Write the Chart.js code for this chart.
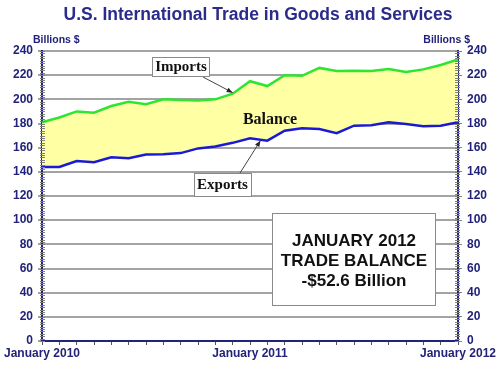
<!DOCTYPE html>
<html><head><meta charset="utf-8">
<script src="https://cdn.jsdelivr.net/npm/chart.js@4"></script>
<style>html,body{margin:0;padding:0;background:#fff}#wrap{width:500px;height:382px;position:relative}</style>
</head><body><div id="wrap"><canvas id="c" width="500" height="382"></canvas></div>
<script>
const months = ['Jan 2010','Feb 2010','Mar 2010','Apr 2010','May 2010','Jun 2010','Jul 2010','Aug 2010','Sep 2010','Oct 2010','Nov 2010','Dec 2010',
  'Jan 2011','Feb 2011','Mar 2011','Apr 2011','May 2011','Jun 2011','Jul 2011','Aug 2011','Sep 2011','Oct 2011','Nov 2011','Dec 2011','Jan 2012'];
const tickLabels = {0:'January 2010', 12:'January 2011', 24:'January 2012'};
const imports = [181, 185, 190, 189, 194.5, 198, 196, 200, 199.5, 199, 200, 204.7, 215, 211, 220, 219.5, 226, 223.4, 223.7, 223.4, 225, 222.6, 224.8, 228.4, 233];
const exports = [144, 144, 149, 148, 152, 151.3, 154.4, 154.6, 155.5, 159.4, 161, 164, 167.8, 165.8, 174, 176, 175.5, 172, 178.2, 178.5, 181, 179.6, 177.7, 178.2, 181];
const yTicks = [0,20,40,60,80,100,120,140,160,180,200,220,240];
const title = 'U.S. International Trade in Goods and Services';
const unitLabel = 'Billions $';
const noteLines = ['JANUARY 2012','TRADE BALANCE','-$52.6 Billion'];

const NAVY = '#22227A';
const SANS = '"Liberation Sans", Arial, sans-serif';
const SERIF = '"Liberation Serif", "Times New Roman", serif';

function arrow(ctx, x1, y1, x2, y2) {
  ctx.save();
  ctx.strokeStyle = '#444'; ctx.fillStyle = '#222'; ctx.lineWidth = 1;
  ctx.beginPath(); ctx.moveTo(x1, y1); ctx.lineTo(x2, y2); ctx.stroke();
  const a = Math.atan2(y2 - y1, x2 - x1), L = 6, W = 2.5;
  ctx.beginPath();
  ctx.moveTo(x2, y2);
  ctx.lineTo(x2 - L*Math.cos(a) + W*Math.sin(a), y2 - L*Math.sin(a) - W*Math.cos(a));
  ctx.lineTo(x2 - L*Math.cos(a) - W*Math.sin(a), y2 - L*Math.sin(a) + W*Math.cos(a));
  ctx.closePath(); ctx.fill();
  ctx.restore();
}
function box(ctx, x, y, w, h) {
  ctx.save();
  ctx.fillStyle = '#fff'; ctx.fillRect(x, y, w, h);
  ctx.strokeStyle = '#8a8a8a'; ctx.lineWidth = 1; ctx.strokeRect(x + 0.5, y + 0.5, w, h);
  ctx.restore();
}

const overlay = {
  id: 'overlay',
  afterDraw(chart) {
    const ctx = chart.ctx, ca = chart.chartArea;
    const xs = chart.scales.x, ys = chart.scales.y;
    ctx.save();
    // title
    ctx.fillStyle = '#2B2B8C';
    ctx.font = 'bold 17.5px ' + SANS;
    ctx.textAlign = 'center'; ctx.textBaseline = 'middle';
    ctx.fillText(title, 258, 15);
    // unit labels
    ctx.font = 'bold 10.5px ' + SANS;
    ctx.fillStyle = NAVY;
    ctx.textAlign = 'left'; ctx.fillText(unitLabel, 33, 40);
    ctx.textAlign = 'right'; ctx.fillText(unitLabel, 470, 40);
    // minor ticks
    ctx.strokeStyle = '#808080'; ctx.lineWidth = 1;
    for (let v = 0; v <= 240; v += 2) {
      const y = Math.round(ys.getPixelForValue(v)) + 0.5;
      ctx.beginPath();
      ctx.moveTo(ca.left - 2, y); ctx.lineTo(ca.left + 3, y);
      ctx.moveTo(ca.right - 3, y); ctx.lineTo(ca.right + 2, y);
      ctx.stroke();
    }
    // Balance label
    ctx.fillStyle = '#111';
    ctx.font = 'bold 16px ' + SERIF;
    ctx.textAlign = 'center';
    ctx.fillText('Balance', 270, 120);
    // Imports label + arrow
    const ix = xs.getPixelForValue(11), iy = ys.getPixelForValue(imports[11]);
    arrow(ctx, 203, 77, ix, iy - 1);
    box(ctx, 152, 57, 57, 19);
    ctx.fillStyle = '#111';
    ctx.font = 'bold 15px ' + SERIF;
    ctx.fillText('Imports', 181, 67);
    // Exports label + arrow
    const f = 0.6;
    const ex = xs.getPixelForValue(12) + f * (xs.getPixelForValue(13) - xs.getPixelForValue(12));
    const ey = ys.getPixelForValue(exports[12] + f * (exports[13] - exports[12]));
    arrow(ctx, 240, 173, ex, ey + 1);
    box(ctx, 194, 173, 57, 23);
    ctx.fillStyle = '#111';
    ctx.font = 'bold 15px ' + SERIF;
    ctx.fillText('Exports', 222.5, 185);
    // note box
    box(ctx, 272, 213, 163, 92);
    ctx.fillStyle = '#111';
    ctx.font = 'bold 17px ' + SANS;
    ctx.fillText(noteLines[0], 354, 241);
    ctx.fillText(noteLines[1], 354, 261);
    ctx.fillText(noteLines[2], 354, 281);
    ctx.restore();
  }
};

const tickFont = {family: SANS, weight: 'bold', size: 12};
new Chart(document.getElementById('c').getContext('2d'), {
  type: 'line',
  data: {
    labels: months,
    datasets: [
      {label: 'Imports', data: imports, borderColor: '#2EE62E', borderWidth: 2.5, pointRadius: 0,
       fill: {target: 1}, backgroundColor: 'rgb(255,255,163)', tension: 0, order: 1},
      {label: 'Exports', data: exports, borderColor: '#1A1AD6', borderWidth: 2.5, pointRadius: 0,
       fill: false, tension: 0, order: 0}
    ]
  },
  options: {
    responsive: false, animation: false, devicePixelRatio: 1,
    layout: {padding: {top: 51, left: 0, right: 0, bottom: 0}},
    plugins: {legend: {display: false}, tooltip: {enabled: false}, title: {display: false}},
    scales: {
      x: {
        type: 'category', offset: false,
        grid: {drawOnChartArea: false, drawTicks: true, tickLength: 4, color: '#555'},
        border: {color: NAVY, width: 2},
        ticks: {autoSkip: false, maxRotation: 0, minRotation: 0, padding: 1, color: NAVY, font: tickFont,
                callback: (v, i) => tickLabels[i] || ''},
        afterFit: s => { s.height = 41; }
      },
      y: {
        position: 'left', min: 0, max: 240,
        afterBuildTicks: s => { s.ticks = yTicks.map(v => ({value: v})); },
        grid: {color: '#A3A3A3', lineWidth: 2, tickLength: 4},
        border: {color: NAVY, width: 2},
        ticks: {padding: 5, color: NAVY, font: tickFont},
        afterFit: s => { s.width = 42; }
      },
      y2: {
        position: 'right', min: 0, max: 240,
        afterBuildTicks: s => { s.ticks = yTicks.map(v => ({value: v})); },
        grid: {drawOnChartArea: false, tickLength: 4, color: '#808080'},
        border: {color: NAVY, width: 2},
        ticks: {padding: 5, color: NAVY, font: tickFont},
        afterFit: s => { s.width = 42; }
      }
    }
  },
  plugins: [overlay]
});
</script>
</body></html>
